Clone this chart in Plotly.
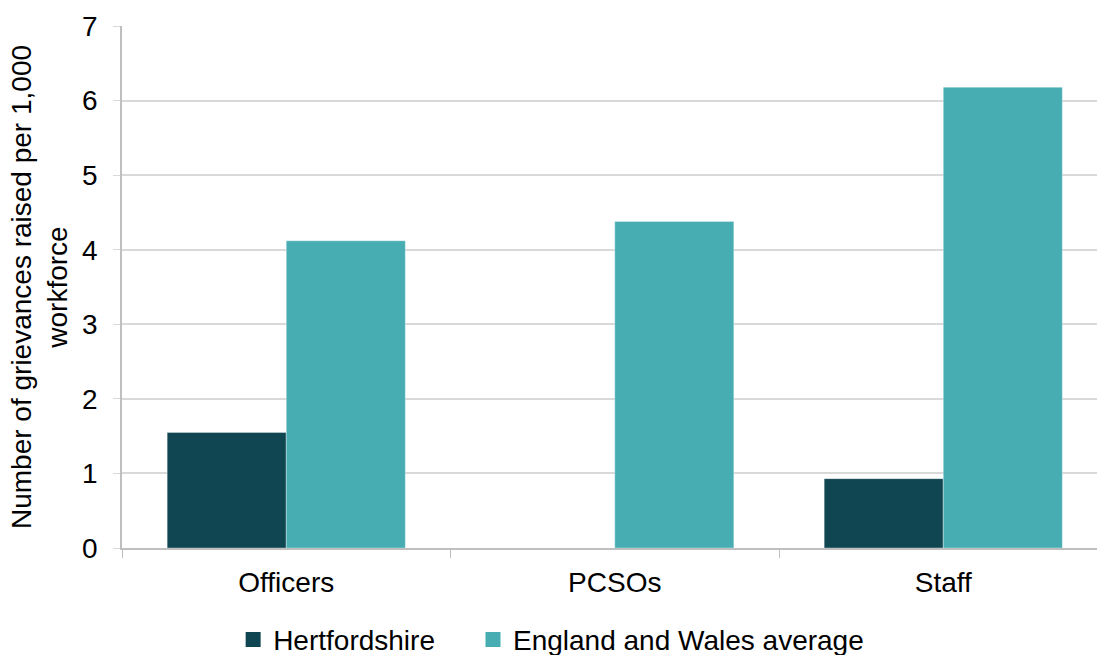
import plotly.graph_objects as go

categories = ["Officers", "PCSOs", "Staff"]
hertfordshire = [1.55, 0, 0.93]
england_wales = [4.12, 4.38, 6.18]
y_ticks = [0, 1, 2, 3, 4, 5, 6, 7]

FONT = "Liberation Sans, Arial, sans-serif"
HERTS_COLOR = "#104651"
EW_COLOR = "#48adb2"
EDGE = dict(color="rgba(255,255,255,0.35)", width=1)

fig = go.Figure()
fig.add_trace(go.Bar(
    x=categories, y=hertfordshire, name="Hertfordshire",
    marker=dict(color=HERTS_COLOR, line=EDGE), showlegend=False,
))
fig.add_trace(go.Bar(
    x=categories, y=england_wales, name="England and Wales average",
    marker=dict(color=EW_COLOR, line=EDGE), showlegend=False,
))
# square legend keys, each in its own legend box
for name, color, leg in [("Hertfordshire", HERTS_COLOR, "legend"),
                         ("England and Wales average", EW_COLOR, "legend2")]:
    fig.add_trace(go.Scatter(
        x=[None], y=[None], mode="markers", name=name, legend=leg,
        marker=dict(symbol="square", size=15, color=color),
    ))

legend_style = dict(orientation="h", xanchor="left", y=-0.176, yanchor="middle",
                    font=dict(size=28), itemwidth=30, bgcolor="rgba(0,0,0,0)")

fig.update_layout(
    width=1097, height=655,
    margin=dict(l=122, r=0, t=26, b=107, autoexpand=False),
    paper_bgcolor="white", plot_bgcolor="white",
    barmode="group", bargap=0.275, bargroupgap=0,
    font=dict(family=FONT, size=28, color="#000000"),
    showlegend=True,
    legend=dict(x=0.114, **legend_style),
    legend2=dict(x=0.360, **legend_style),
    xaxis=dict(
        type="category", range=[-0.5, 2.468],
        showline=True, linecolor="#bfbfbf", linewidth=1.5,
        ticks="outside", tickson="boundaries", ticklen=8, tickcolor="#bfbfbf",
        showgrid=False, tickfont=dict(size=28), ticklabelstandoff=9,
    ),
    yaxis=dict(
        range=[0, 7], tickvals=y_ticks,
        showline=True, linecolor="#bfbfbf", linewidth=1.5,
        ticks="outside", ticklen=7, tickcolor="#d9d9d9",
        showgrid=True, gridcolor="#d9d9d9", gridwidth=1.5,
        zeroline=False, tickfont=dict(size=28), ticklabelstandoff=10,
        title=dict(text="Number of grievances raised per 1,000<br>workforce",
                   font=dict(size=28), standoff=6),
    ),
)

fig.write_html("out.html")
